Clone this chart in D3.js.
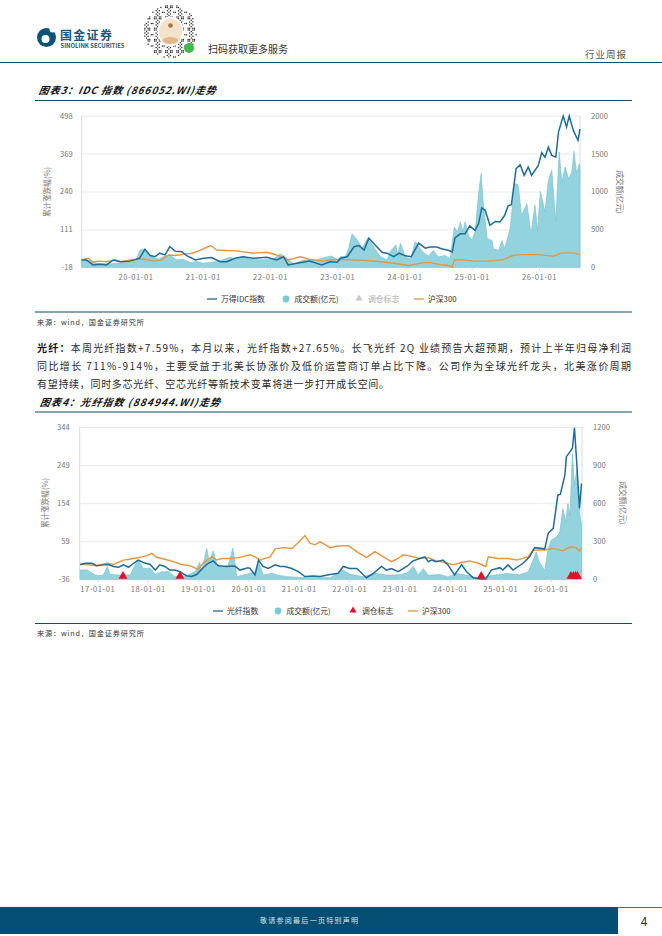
<!DOCTYPE html>
<html>
<head>
<meta charset="utf-8">
<script src="https://cdn.jsdelivr.net/npm/d3@7"></script>
<style>
  html, body { margin: 0; padding: 0; background: #fff; }
  svg { display: block; }
  text { font-family: "Noto Sans CJK SC", "Noto Sans", sans-serif; }
</style>
</head>
<body>
<script>
// chart 3: IDC index. x values are fractional years
var idcYTicks = [-18, 111, 240, 369, 498];
var idcVolTicks = [0, 500, 1000, 1500, 2000];
var idcXTicks = [2020, 2021, 2022, 2023, 2024, 2025, 2026];
var idcXLabels = ["20-01-01", "21-01-01", "22-01-01", "23-01-01", "24-01-01", "25-01-01", "26-01-01"];

var idcIndexYears = [2019.20, 2019.27, 2019.37, 2019.47, 2019.57, 2019.67, 2019.77, 2019.92, 2020.06, 2020.09, 2020.14, 2020.22, 2020.29, 2020.36, 2020.44, 2020.51, 2020.59, 2020.69, 2020.76, 2020.89, 2021.01, 2021.13, 2021.26, 2021.36, 2021.48, 2021.60, 2021.75, 2021.95, 2022.10, 2022.20, 2022.27, 2022.40, 2022.59, 2022.77, 2022.89, 2023.00, 2023.05, 2023.15, 2023.25, 2023.32, 2023.40, 2023.47, 2023.57, 2023.67, 2023.74, 2023.84, 2023.92, 2024.01, 2024.10, 2024.21, 2024.31, 2024.38, 2024.48, 2024.55, 2024.65, 2024.71, 2024.75, 2024.83, 2024.90, 2024.97, 2025.05, 2025.10, 2025.15, 2025.20, 2025.27, 2025.35, 2025.42, 2025.49, 2025.54, 2025.59, 2025.66, 2025.72, 2025.78, 2025.84, 2025.89, 2025.99, 2026.04, 2026.09, 2026.14, 2026.19, 2026.25, 2026.29, 2026.36, 2026.41, 2026.45, 2026.51, 2026.58, 2026.61];
var idcIndexValues = [7, 7, -10, -8, -10, 7, 1, 3, 13, 24, 43, 22, 18, 30, 24, 52, 37, 35, 22, 7, 13, 15, 1, 1, 13, 18, 13, 16, 7, 18, -10, -4, 3, -10, 1, -1, 13, 18, 52, 56, 41, 81, 56, 32, 30, 18, 30, 21, 18, 64, 47, 51, 51, 45, 40, 34, 82, 96, 96, 123, 108, 130, 184, 176, 125, 138, 136, 159, 191, 195, 318, 331, 295, 323, 295, 329, 372, 357, 391, 363, 357, 442, 497, 460, 497, 448, 414, 452];

var idcVolumeYears = [2019.20, 2019.30, 2019.43, 2019.62, 2019.82, 2020.00, 2020.07, 2020.14, 2020.22, 2020.34, 2020.42, 2020.51, 2020.61, 2020.71, 2020.81, 2020.91, 2021.01, 2021.21, 2021.41, 2021.50, 2021.60, 2021.70, 2021.90, 2022.05, 2022.15, 2022.22, 2022.35, 2022.50, 2022.69, 2022.82, 2022.92, 2023.00, 2023.05, 2023.12, 2023.17, 2023.22, 2023.30, 2023.37, 2023.45, 2023.54, 2023.64, 2023.74, 2023.79, 2023.87, 2023.90, 2023.94, 2024.01, 2024.09, 2024.16, 2024.23, 2024.29, 2024.36, 2024.43, 2024.50, 2024.60, 2024.68, 2024.74, 2024.79, 2024.83, 2024.87, 2024.90, 2024.95, 2025.00, 2025.05, 2025.10, 2025.14, 2025.17, 2025.23, 2025.30, 2025.32, 2025.40, 2025.45, 2025.49, 2025.57, 2025.64, 2025.69, 2025.74, 2025.82, 2025.87, 2025.89, 2025.94, 2025.98, 2026.02, 2026.09, 2026.14, 2026.19, 2026.25, 2026.30, 2026.34, 2026.39, 2026.44, 2026.49, 2026.52, 2026.56, 2026.60, 2026.61];
var idcVolumeValues = [105, 97, 53, 44, 62, 88, 229, 237, 141, 105, 141, 163, 97, 105, 62, 75, 53, 75, 132, 105, 149, 105, 97, 105, 176, 141, 44, 97, 97, 132, 149, 97, 141, 141, 250, 440, 360, 250, 382, 273, 141, 97, 207, 295, 163, 317, 141, 105, 338, 250, 185, 149, 223, 135, 157, 113, 531, 465, 597, 465, 597, 421, 355, 465, 949, 1235, 861, 377, 355, 245, 223, 355, 245, 509, 1103, 1090, 685, 839, 509, 487, 817, 487, 1001, 729, 1147, 1279, 597, 1520, 1125, 1322, 1169, 1257, 1529, 1235, 1366, 1300];

var idcHs300Years = [2019.20, 2019.30, 2019.37, 2019.45, 2019.57, 2019.70, 2019.79, 2019.92, 2020.06, 2020.12, 2020.27, 2020.39, 2020.49, 2020.59, 2020.71, 2020.84, 2020.94, 2021.03, 2021.12, 2021.21, 2021.36, 2021.50, 2021.75, 2021.95, 2022.10, 2022.27, 2022.45, 2022.59, 2022.79, 2022.89, 2023.00, 2023.25, 2023.45, 2023.64, 2023.84, 2024.06, 2024.29, 2024.38, 2024.53, 2024.63, 2024.71, 2024.74, 2024.85, 2025.02, 2025.27, 2025.47, 2025.62, 2025.77, 2025.97, 2026.22, 2026.34, 2026.51, 2026.61];
var idcHs300Values = [7, 13, -1, 3, 1, 7, 1, 7, 9, 10, 3, 7, 24, 22, 26, 30, 38, 47, 56, 41, 39, 38, 30, 33, 24, 7, 18, 9, 3, 7, 9, 7, 5, 1, -4, -12, -2, -2, -9, -11, -17, 6, 8, 3, 3, 8, 23, 25, 25, 20, 31, 31, 25];

// chart 4: optical fibre index
var fiberYTicks = [-36, 59, 154, 249, 344];
var fiberVolTicks = [0, 300, 600, 900, 1200];
var fiberXTicks = [2017, 2018, 2019, 2020, 2021, 2022, 2023, 2024, 2025, 2026];
var fiberXLabels = ["17-01-01", "18-01-01", "19-01-01", "20-01-01", "21-01-01", "22-01-01", "23-01-01", "24-01-01", "25-01-01", "26-01-01"];

var fiberIndexYears = [2016.66, 2016.76, 2016.89, 2016.99, 2017.12, 2017.22, 2017.32, 2017.42, 2017.52, 2017.62, 2017.72, 2017.81, 2017.91, 2018.05, 2018.15, 2018.24, 2018.34, 2018.44, 2018.54, 2018.64, 2018.77, 2018.87, 2018.97, 2019.10, 2019.20, 2019.30, 2019.40, 2019.57, 2019.73, 2019.83, 2019.99, 2020.03, 2020.13, 2020.20, 2020.29, 2020.39, 2020.53, 2020.63, 2020.72, 2020.86, 2020.99, 2021.12, 2021.29, 2021.42, 2021.62, 2021.78, 2021.88, 2022.01, 2022.15, 2022.25, 2022.34, 2022.48, 2022.64, 2022.74, 2022.84, 2022.97, 2023.14, 2023.27, 2023.40, 2023.50, 2023.57, 2023.63, 2023.73, 2023.86, 2023.96, 2024.09, 2024.23, 2024.33, 2024.46, 2024.62, 2024.71, 2024.82, 2024.99, 2025.05, 2025.15, 2025.25, 2025.45, 2025.58, 2025.68, 2025.88, 2025.95, 2026.05, 2026.14, 2026.19, 2026.28, 2026.31, 2026.38, 2026.43, 2026.47, 2026.51, 2026.57, 2026.61];
var fiberIndexValues = [1, 4, 4, -2, 0, 1, -4, -6, 0, -6, 4, 12, 6, 1, -13, 0, -4, -13, -13, -17, -27, -29, -24, -7, 4, 10, -2, -4, -3, -13, -7, -9, -25, 12, -4, -9, 0, -4, -4, -9, -17, -29, -28, -29, -24, -21, -4, -9, -9, -21, -32, -21, -4, -13, -9, -17, -4, 10, 16, 20, 8, 12, 8, 12, 0, -25, 0, -17, -32, -35, -35, -13, -7, -13, 0, -13, 4, 20, 43, 40, 79, 91, 174, 176, 224, 270, 282, 291, 342, 266, 141, 203];

var fiberVolumeYears = [2016.66, 2016.79, 2016.96, 2017.02, 2017.12, 2017.20, 2017.25, 2017.39, 2017.49, 2017.65, 2017.72, 2017.81, 2017.91, 2018.05, 2018.15, 2018.28, 2018.41, 2018.54, 2018.77, 2018.94, 2019.03, 2019.07, 2019.17, 2019.22, 2019.30, 2019.37, 2019.47, 2019.60, 2019.69, 2019.77, 2020.03, 2020.13, 2020.20, 2020.29, 2020.49, 2020.56, 2020.76, 2021.09, 2021.62, 2021.88, 2022.01, 2022.28, 2022.51, 2022.74, 2022.94, 2023.14, 2023.27, 2023.37, 2023.47, 2023.57, 2023.80, 2023.96, 2024.13, 2024.33, 2024.56, 2024.86, 2025.12, 2025.38, 2025.55, 2025.65, 2025.71, 2025.77, 2025.88, 2025.95, 2026.01, 2026.11, 2026.18, 2026.24, 2026.30, 2026.34, 2026.38, 2026.43, 2026.47, 2026.52, 2026.57, 2026.61];
var fiberVolumeValues = [74, 74, 34, 29, 34, 100, 39, 34, 34, 34, 87, 152, 87, 87, 39, 60, 60, 21, 29, 60, 134, 60, 244, 139, 223, 118, 92, 113, 244, 21, 47, 60, 139, 34, 47, 34, 21, 13, 13, 74, 39, 21, 47, 34, 34, 47, 100, 34, 84, 31, 37, 18, 45, 31, 10, 31, 45, 37, 58, 150, 215, 137, 71, 242, 307, 333, 373, 557, 452, 596, 500, 990, 740, 872, 530, 425];

var fiberHs300Years = [2016.66, 2016.79, 2016.99, 2017.19, 2017.32, 2017.52, 2017.72, 2017.88, 2017.98, 2018.08, 2018.18, 2018.34, 2018.51, 2018.67, 2018.84, 2019.00, 2019.10, 2019.27, 2019.37, 2019.47, 2019.60, 2019.80, 2020.03, 2020.13, 2020.23, 2020.43, 2020.53, 2020.69, 2020.86, 2020.99, 2021.06, 2021.12, 2021.22, 2021.32, 2021.42, 2021.62, 2021.78, 2021.98, 2022.15, 2022.34, 2022.51, 2022.68, 2022.84, 2022.97, 2023.07, 2023.27, 2023.40, 2023.57, 2023.73, 2023.90, 2024.06, 2024.23, 2024.39, 2024.56, 2024.71, 2024.76, 2024.95, 2025.15, 2025.32, 2025.55, 2025.65, 2025.88, 2026.05, 2026.24, 2026.38, 2026.51, 2026.56, 2026.61];
var fiberHs300Values = [1, 1, -2, 4, 1, 12, 16, 20, 23, 29, 19, 14, 8, 1, -2, -11, 4, 20, 12, 16, 16, 18, 25, 20, 12, 20, 40, 43, 41, 56, 65, 73, 54, 50, 58, 43, 47, 48, 33, 18, 33, 20, 8, 16, 25, 20, 16, 18, 10, 6, 0, 6, 10, 4, -4, 20, 16, 16, 12, 20, 37, 37, 41, 35, 45, 43, 35, 40];

// rebalance markers on chart 4
var fiberFlagYears = [2017.51, 2018.64, 2024.62, 2026.40, 2026.45, 2026.49, 2026.53];

var paragraphLines = [
  "本周光纤指数+7.59%\uFF0C本月以来\uFF0C光纤指数+27.65%。长飞光纤 2Q 业绩预告大超预期\uFF0C预计上半年归母净利润",
  "同比增长 711%-914%\uFF0C主要受益于北美长协涨价及低价运营商订单占比下降。公司作为全球光纤龙头\uFF0C北美涨价周期",
  "有望持续\uFF0C同时多芯光纤、空芯光纤等新技术变革将进一步打开成长空间。"
];

var navy = "#0f4c68";
var blue = "#1f6d99";
var orange = "#e8943c";
var teal = "#93d3de";
var red = "#e60f28";

var svg = d3.select("body").append("svg").attr("width", 662).attr("height", 936);

function addText(x, y, str, size, color, weight) {
  return svg.append("text")
    .attr("x", x).attr("y", y)
    .attr("font-size", size)
    .attr("fill", color)
    .attr("font-weight", weight || 400)
    .text(str);
}

function rule(x1, x2, y, color, w) {
  svg.append("line").attr("x1", x1).attr("x2", x2).attr("y1", y).attr("y2", y)
    .attr("stroke", color).attr("stroke-width", w);
}

function drawHeader() {
  // logo
  svg.append("circle").attr("cx", 46.5).attr("cy", 37.5).attr("r", 9.5).attr("fill", "#0d5277");
  svg.append("circle").attr("cx", 45.5).attr("cy", 39).attr("r", 4).attr("fill", "#fff");
  svg.append("circle").attr("cx", 52.5).attr("cy", 29.5).attr("r", 3).attr("fill", "#fff");
  addText(60, 39.5, "国金证券", 12, "#1a5a7d", 700).attr("letter-spacing", 1.3);
  addText(60.5, 48, "SINOLINK SECURITIES", 5.9, "#1a5a7d", 700);

  // round QR badge
  var cell = 1.6, cx = 170.5, cy = 31.5;
  var cells = d3.range(33).flatMap(function(i) {
    return d3.range(33).map(function(j) { return [i, j]; });
  }).filter(function(c) {
    var dx = c[0] - 16, dy = c[1] - 16;
    var dist = Math.sqrt(dx * dx + dy * dy);
    return dist < 16.5 && (c[0] * c[0] * 3 + c[1] * c[1] * 5 + c[0] * c[1] * 7 + c[0] + 2 * c[1]) % 7 < 3;
  });
  svg.append("g").selectAll("circle").data(cells).enter().append("circle")
    .attr("cx", function(c) { return cx + (c[0] - 16) * cell; })
    .attr("cy", function(c) { return cy + (c[1] - 16) * cell; })
    .attr("r", 0.75)
    .attr("fill", "#333");
  svg.append("ellipse").attr("cx", cx).attr("cy", cy).attr("rx", 13).attr("ry", 15).attr("fill", "#fff");
  svg.append("ellipse").attr("cx", cx).attr("cy", cy).attr("rx", 11.5).attr("ry", 13).attr("fill", "#f3e3cb");
  svg.append("ellipse").attr("cx", cx).attr("cy", cy + 9).attr("rx", 8).attr("ry", 3.5).attr("fill", "#e2b98a");
  svg.append("circle").attr("cx", cx).attr("cy", cy - 6).attr("r", 2.3).attr("fill", "#a8763e");
  svg.append("circle").attr("cx", 189).attr("cy", 48).attr("r", 5).attr("fill", "#3dbb4c");

  addText(208, 52.5, "扫码获取更多服务", 10, "#333");
  addText(585, 58, "行业周报", 9.5, "#555").attr("letter-spacing", 1);
  rule(0, 662, 62.5, navy, 1);
}

function drawFooter() {
  svg.append("rect").attr("x", 0).attr("y", 907).attr("width", 618).attr("height", 27).attr("fill", "#044e74");
  rule(618, 662, 907.5, "#044e74", 0.8);
  addText(260, 923, "敬请参阅最后一页特别声明", 7, "#d5e3ea").attr("textLength", 98).attr("lengthAdjust", "spacing");
  addText(644, 926, "4", 12, "#333", 400).attr("text-anchor", "middle");
}

function drawTitle(y, str, ruleY, len) {
  addText(38, y, str, 10, "#111", 700)
    .attr("font-style", "italic")
    .attr("textLength", len).attr("lengthAdjust", "spacing")
    .attr("transform", "translate(" + (y * 0.18) + ",0) skewX(-10)");
  rule(35, 632, ruleY, navy, 1);
}

function drawChart(c) {
  var x = d3.scaleLinear().domain(c.xDomain).range([c.left, c.right]);
  var y = d3.scaleLinear().domain([c.yTicks[0], c.yTicks[c.yTicks.length - 1]]).range([c.bottom, c.top]);
  var yVol = d3.scaleLinear().domain([0, c.volTicks[c.volTicks.length - 1]]).range([c.bottom, c.top]);

  var g = svg.append("g");

  // horizontal grid from the left axis
  var grid = g.append("g").attr("transform", "translate(" + c.left + ",0)")
    .call(d3.axisLeft(y).tickValues(c.yTicks).tickSize(-(c.right - c.left)).tickFormat(""));
  grid.selectAll(".tick line").attr("stroke", "#e9e9e9").attr("stroke-width", 0.9);
  grid.select(".domain").remove();

  g.append("line").attr("x1", c.left).attr("x2", c.left).attr("y1", c.top).attr("y2", c.bottom).attr("stroke", "#dcdcdc");
  g.append("line").attr("x1", c.right).attr("x2", c.right).attr("y1", c.top).attr("y2", c.bottom).attr("stroke", "#dcdcdc");

  var volume = d3.zip(c.volumeYears, c.volumeValues);
  g.append("path").datum(volume)
    .attr("fill", teal)
    .attr("stroke", "#7ec2d0").attr("stroke-width", 0.7)
    .attr("d", d3.area()
      .x(function(d) { return x(d[0]); })
      .y0(c.bottom)
      .y1(function(d) { return yVol(d[1]); }));

  var line = d3.line()
    .x(function(d) { return x(d[0]); })
    .y(function(d) { return y(d[1]); });

  g.append("path").datum(d3.zip(c.hs300Years, c.hs300Values))
    .attr("fill", "none").attr("stroke", orange).attr("stroke-width", 1.4).attr("d", line);
  g.append("path").datum(d3.zip(c.indexYears, c.indexValues))
    .attr("fill", "none").attr("stroke", blue).attr("stroke-width", 1.5).attr("d", line);

  g.append("g").selectAll("path").data(c.flagYears).enter().append("path")
    .attr("d", d3.symbol().type(d3.symbolTriangle).size(34))
    .attr("fill", red)
    .attr("transform", function(d) { return "translate(" + x(d) + "," + (c.bottom - 3.2) + ")"; });

  // axes
  var plain = function(d) { return String(d); };
  var left = g.append("g").attr("transform", "translate(" + c.left + ",0)")
    .call(d3.axisLeft(y).tickValues(c.yTicks).tickSize(0).tickPadding(c.leftPad).tickFormat(plain));
  var right = g.append("g").attr("transform", "translate(" + c.right + ",0)")
    .call(d3.axisRight(yVol).tickValues(c.volTicks).tickSize(0).tickPadding(c.rightPad).tickFormat(plain));
  var bottom = g.append("g").attr("transform", "translate(0," + c.bottom + ")")
    .call(d3.axisBottom(x).tickValues(c.xTicks).tickSize(3).tickPadding(4)
      .tickFormat(function(d, i) { return c.xLabels[i]; }));

  [left, right, bottom].forEach(function(a) {
    a.select(".domain").remove();
    a.selectAll("text").attr("fill", "#777").attr("font-size", 7.6)
      .style("font-family", '"Noto Sans CJK SC", sans-serif');
    a.selectAll(".tick line").attr("stroke", "#dcdcdc");
  });
  bottom.selectAll("text").attr("letter-spacing", 0.55);

  g.append("text").attr("transform", "translate(" + c.yTitleLeft + "," + c.yTitleY + ") rotate(-90)")
    .attr("text-anchor", "middle").attr("font-size", 7.6).attr("fill", "#777").text("累计涨跌幅(%)");
  g.append("text").attr("transform", "translate(" + c.yTitleRight + "," + c.yTitleY + ") rotate(90)")
    .attr("text-anchor", "middle").attr("font-size", 7.6).attr("fill", "#777").text("成交额(亿元)");

  // legend
  var ly = c.legendY, lx = c.legendX;
  g.append("line").attr("x1", lx[0]).attr("x2", lx[0] + 10).attr("y1", ly).attr("y2", ly).attr("stroke", blue).attr("stroke-width", 1.3);
  addText(lx[0] + 14, ly + 3, c.indexName, 7.8, "#333");
  g.append("circle").attr("cx", lx[1]).attr("cy", ly).attr("r", 3.4).attr("fill", "#7ccad8");
  addText(lx[1] + 8.5, ly + 3, "成交额(亿元)", 7.8, "#333");
  g.append("path").attr("d", d3.symbol().type(d3.symbolTriangle).size(22))
    .attr("transform", "translate(" + lx[2] + "," + (ly - 0.5) + ")")
    .attr("fill", c.flagColor);
  addText(lx[2] + 9, ly + 3, "调仓标志", 7.8, c.flagText);
  g.append("line").attr("x1", lx[3]).attr("x2", lx[3] + 10).attr("y1", ly).attr("y2", ly).attr("stroke", orange).attr("stroke-width", 1.3);
  addText(lx[3] + 14, ly + 3, "沪深300", 7.8, "#333");
}

function drawSource(y) {
  addText(37, y, "来源\uFF1Awind\uFF0C国金证券研究所", 7.2, "#333").attr("textLength", 107).attr("lengthAdjust", "spacing");
}

function drawParagraph() {
  var ys = [352, 370, 388];
  var widths = [594, 594, 352];
  paragraphLines.forEach(function(str, i) {
    var t = svg.append("text").attr("x", 37).attr("y", ys[i]).attr("font-size", 10).attr("fill", "#2a2a2a")
      .attr("textLength", widths[i]).attr("lengthAdjust", "spacing");
    if (i === 0) t.append("tspan").attr("font-weight", 700).attr("fill", "#111").text("光纤\uFF1A");
    t.append("tspan").text(str);
  });
}

drawHeader();

drawTitle(94, "图表3\uFF1AIDC 指数 (866052.WI)走势", 100.5, 177);
drawChart({
  left: 81.7, right: 580, top: 115.7, bottom: 267.3,
  xDomain: [2019.20, 2026.61],
  xTicks: idcXTicks, xLabels: idcXLabels,
  yTicks: idcYTicks, volTicks: idcVolTicks,
  indexYears: idcIndexYears, indexValues: idcIndexValues,
  volumeYears: idcVolumeYears, volumeValues: idcVolumeValues,
  hs300Years: idcHs300Years, hs300Values: idcHs300Values,
  flagYears: [],
  leftPad: 9, rightPad: 11,
  yTitleLeft: 50, yTitleRight: 617, yTitleY: 192,
  legendY: 299, legendX: [207, 286, 359, 414],
  indexName: "万得IDC指数", flagColor: "#c9c9c9", flagText: "#aaa"
});
rule(35, 632, 312, navy, 1);
drawSource(325);

drawParagraph();

drawTitle(406, "图表4\uFF1A光纤指数 (884944.WI)走势", 412, 180);
drawChart({
  left: 79.7, right: 582, top: 427, bottom: 579.3,
  xDomain: [2016.65, 2026.62],
  xTicks: fiberXTicks, xLabels: fiberXLabels,
  yTicks: fiberYTicks, volTicks: fiberVolTicks,
  indexYears: fiberIndexYears, indexValues: fiberIndexValues,
  volumeYears: fiberVolumeYears, volumeValues: fiberVolumeValues,
  hs300Years: fiberHs300Years, hs300Values: fiberHs300Values,
  flagYears: fiberFlagYears,
  leftPad: 10, rightPad: 11,
  yTitleLeft: 48, yTitleRight: 620, yTitleY: 503,
  legendY: 611, legendX: [213, 278, 353, 408],
  indexName: "光纤指数", flagColor: red, flagText: "#333"
});
rule(35, 632, 623.5, navy, 1);
drawSource(636);

drawFooter();
</script>
</body>
</html>
